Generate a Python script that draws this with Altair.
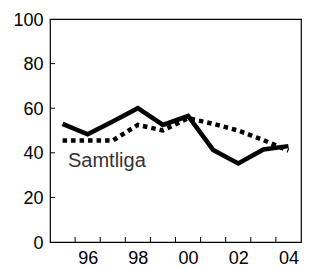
import altair as alt
import pandas as pd

years = [1995, 1996, 1997, 1998, 1999, 2000, 2001, 2002, 2003, 2004]
solid = [53, 48.3, 54, 60, 52.5, 56.5, 41.3, 35.2, 41.5, 43]
dotted = [45.5, 45.5, 45.5, 52.5, 50, 55.5, 53, 50, 45.7, 41]
x_labels = [1996, 1998, 2000, 2002, 2004]
x_ticks = [1995.5, 1996.5, 1997.5, 1998.5, 1999.5, 2000.5, 2001.5, 2002.5, 2003.5]
y_labels = [0, 20, 40, 60, 80, 100]
y_ticks = [20, 40, 60, 80]
label_text = "Samtliga"

W, H = 251, 223
df = pd.DataFrame({"year": years, "solid": solid, "dotted": dotted})
xs = alt.Scale(domain=[1994.5, 2004.5], nice=False, zero=False)
ys = alt.Scale(domain=[0, 100], nice=False)

font = "Liberation Sans"
xaxis = alt.Axis(values=x_labels, labelExpr="substring(toString(datum.value), 2)",
                 ticks=False, grid=False, domain=False, title=None,
                 labelFontSize=18, labelFont=font, labelColor="#000", labelPadding=7)
yaxis = alt.Axis(values=y_labels, ticks=False, grid=False, domain=False,
                 title=None, labelFontSize=18, labelFont=font, labelColor="#000",
                 labelPadding=7, labelOffset=1)

base = alt.Chart(df)
dot_line = base.mark_line(color="black", strokeWidth=4.5, strokeDash=[4.5, 4]).encode(
    x=alt.X("year:Q", scale=xs, axis=xaxis),
    y=alt.Y("dotted:Q", scale=ys, axis=yaxis),
)
solid_line = base.mark_line(color="black", strokeWidth=4.5, strokeJoin="miter").encode(
    x=alt.X("year:Q", scale=xs),
    y=alt.Y("solid:Q", scale=ys),
)

xt = alt.Chart(pd.DataFrame({"t": x_ticks})).mark_rule(color="black", strokeWidth=1).encode(
    x=alt.X("t:Q", scale=xs), y=alt.value(H), y2=alt.value(H - 5))
yt = alt.Chart(pd.DataFrame({"t": y_ticks})).mark_rule(color="black", strokeWidth=1).encode(
    y=alt.Y("t:Q", scale=ys), x=alt.value(0), x2=alt.value(5))

txt = alt.Chart(pd.DataFrame({"label": [label_text]})).mark_text(
    align="left", baseline="alphabetic", fontSize=20, font=font, color="#333"
).encode(x=alt.value(18), y=alt.value(148), text="label:N")

chart = alt.layer(dot_line, solid_line, xt, yt, txt).properties(
    width=W, height=H,
    autosize=alt.AutoSizeParams(type="none"),
    padding={"left": 42, "top": 11, "right": 1, "bottom": 27},
).configure_view(stroke="black", strokeWidth=1.2)

chart.save("out.html", embed_options={"renderer": "svg", "actions": False})
